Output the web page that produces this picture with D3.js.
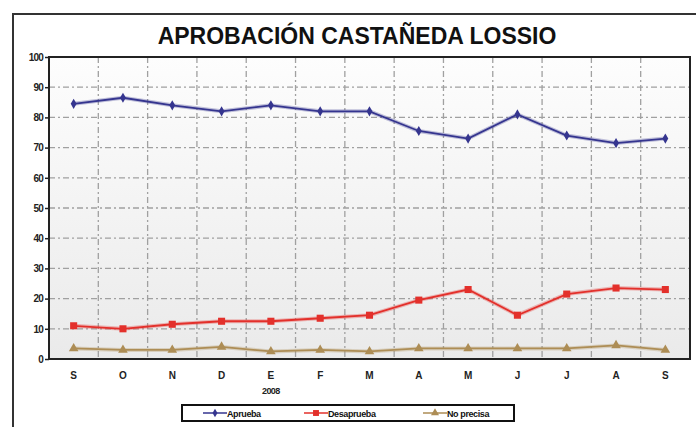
<!DOCTYPE html>
<html lang="es">
<head>
<meta charset="UTF-8">
<title>Aprobación Castañeda Lossio</title>
<script src="https://d3js.org/d3.v7.min.js"></script>
<style>
    body { margin: 0; background: #fff; }
    svg { display: block; font-family: "Liberation Sans", Arial, sans-serif; }
</style>
</head>
<body>
<svg id="chart" width="696" height="427"></svg>
<script>
    // datos
    const months = ['S', 'O', 'N', 'D', 'E', 'F', 'M', 'A', 'M', 'J', 'J', 'A', 'S'];
    const aprueba = [84.5, 86.5, 84, 82, 84, 82, 82, 75.5, 73, 81, 74, 71.5, 73];
    const desaprueba = [11, 10, 11.5, 12.5, 12.5, 13.5, 14.5, 19.5, 23, 14.5, 21.5, 23.5, 23];
    const noPrecisa = [3.5, 3, 3, 4, 2.5, 3, 2.5, 3.5, 3.5, 3.5, 3.5, 4.5, 3];
    const yTicks = [0, 10, 20, 30, 40, 50, 60, 70, 80, 90, 100];

    const series = [
        { name: 'Aprueba', values: aprueba, color: '#35358f', shape: 'diamond' },
        { name: 'Desaprueba', values: desaprueba, color: '#e3302b', shape: 'square' },
        { name: 'No precisa', values: noPrecisa, color: '#ad8d55', shape: 'triangle' }
    ];

    const svg = d3.select('#chart');
    const margin = { left: 49, right: 690, top: 57, bottom: 359 };

    const x = d3.scaleBand().domain(d3.range(months.length)).range([margin.left, margin.right]);
    const y = d3.scaleLinear().domain([0, 100]).range([margin.bottom, margin.top]);

    // marco exterior
    svg.append('path')
        .attr('d', 'M13,427 L13,14 L696,14')
        .attr('fill', 'none').attr('stroke', '#333').attr('stroke-width', 2);

    svg.append('text')
        .attr('x', 357).attr('y', 44)
        .attr('text-anchor', 'middle')
        .attr('font-size', 23).attr('font-weight', 'bold')
        .attr('fill', '#111')
        .text('APROBACIÓN CASTAÑEDA LOSSIO');

    // fondo con degradado
    const grad = svg.append('defs').append('linearGradient')
        .attr('id', 'bg').attr('x1', 0).attr('y1', 0).attr('x2', 0).attr('y2', 1);
    grad.append('stop').attr('offset', '0%').attr('stop-color', '#fdfdfd');
    grad.append('stop').attr('offset', '100%').attr('stop-color', '#eaeaea');

    svg.append('rect')
        .attr('x', margin.left).attr('y', margin.top)
        .attr('width', margin.right - margin.left).attr('height', margin.bottom - margin.top)
        .attr('fill', 'url(#bg)');

    // rejilla
    const grid = svg.append('g')
        .attr('stroke', '#a0a0a0').attr('stroke-width', 1.3).attr('stroke-dasharray', '6,3,2,3');
    grid.selectAll('.h').data(yTicks.slice(1, -1)).enter().append('line')
        .attr('x1', margin.left).attr('x2', margin.right)
        .attr('y1', d => y(d)).attr('y2', d => y(d));
    grid.selectAll('.v').data(d3.range(1, months.length)).enter().append('line')
        .attr('x1', d => x(d)).attr('x2', d => x(d))
        .attr('y1', margin.top).attr('y2', margin.bottom);

    // ejes
    const yAxis = svg.append('g')
        .attr('transform', `translate(${margin.left},0)`)
        .call(d3.axisLeft(y).tickValues(yTicks).tickSize(4).tickPadding(2));
    yAxis.select('.domain').remove();
    yAxis.selectAll('line').attr('stroke', '#222').attr('stroke-width', 1.5);
    yAxis.selectAll('text')
        .attr('font-size', 10).attr('font-weight', 'bold').attr('letter-spacing', -0.8)
        .attr('font-family', '"Liberation Sans", Arial, sans-serif').attr('fill', '#222');

    const xAxis = svg.append('g')
        .attr('transform', `translate(0,${margin.bottom})`)
        .call(d3.axisBottom(x).tickFormat(i => months[i]).tickSize(0).tickPadding(13));
    xAxis.select('.domain').remove();
    xAxis.selectAll('text')
        .attr('font-size', 10).attr('font-weight', 'bold')
        .attr('font-family', '"Liberation Sans", Arial, sans-serif').attr('fill', '#222');

    svg.append('text')
        .attr('x', x(4) + x.bandwidth() / 2).attr('y', 394)
        .attr('text-anchor', 'middle')
        .attr('font-size', 9).attr('font-weight', 'bold').attr('letter-spacing', -0.6)
        .attr('fill', '#222')
        .text('2008');

    // borde del área
    svg.append('rect')
        .attr('x', margin.left).attr('y', margin.top)
        .attr('width', margin.right - margin.left).attr('height', margin.bottom - margin.top)
        .attr('fill', 'none').attr('stroke', '#222').attr('stroke-width', 2);

    const symbols = { diamond: d3.symbolDiamond, square: d3.symbolSquare, triangle: d3.symbolTriangle };
    const symSize = { diamond: 30, square: 50, triangle: 40 };
    const cx = i => x(i) + x.bandwidth() / 2;
    const line = d3.line().x((d, i) => cx(i)).y(d => y(d));

    series.forEach(s => {
        const g = svg.append('g');
        g.append('path').datum(s.values)
            .attr('d', line).attr('fill', 'none')
            .attr('stroke', s.color).attr('stroke-opacity', 0.3).attr('stroke-width', 4);
        g.append('path').datum(s.values)
            .attr('d', line).attr('fill', 'none')
            .attr('stroke', s.color).attr('stroke-width', 1.8);
        g.selectAll('.m').data(s.values).enter().append('path')
            .attr('transform', (d, i) => `translate(${cx(i)},${y(d)})`)
            .attr('d', d3.symbol().type(symbols[s.shape]).size(symSize[s.shape]))
            .attr('fill', s.color);
    });

    // leyenda
    const legend = svg.append('g');
    legend.append('rect')
        .attr('x', 182).attr('y', 405).attr('width', 332).attr('height', 16)
        .attr('fill', '#fff').attr('stroke', '#111').attr('stroke-width', 2);
    const legendX = [203, 304, 423];
    series.forEach((s, i) => {
        const lg = legend.append('g').attr('transform', `translate(${legendX[i]},413)`);
        lg.append('line').attr('x1', 0).attr('x2', 24)
            .attr('stroke', s.color).attr('stroke-width', 1.5);
        lg.append('path').attr('transform', 'translate(12,0)')
            .attr('d', d3.symbol().type(symbols[s.shape]).size(symSize[s.shape] * 0.7))
            .attr('fill', s.color);
        lg.append('text').attr('x', 24).attr('y', 3.5)
            .attr('font-size', 9).attr('font-weight', 'bold').attr('letter-spacing', -0.4)
            .attr('fill', '#111')
            .text(s.name);
    });
</script>
</body>
</html>
